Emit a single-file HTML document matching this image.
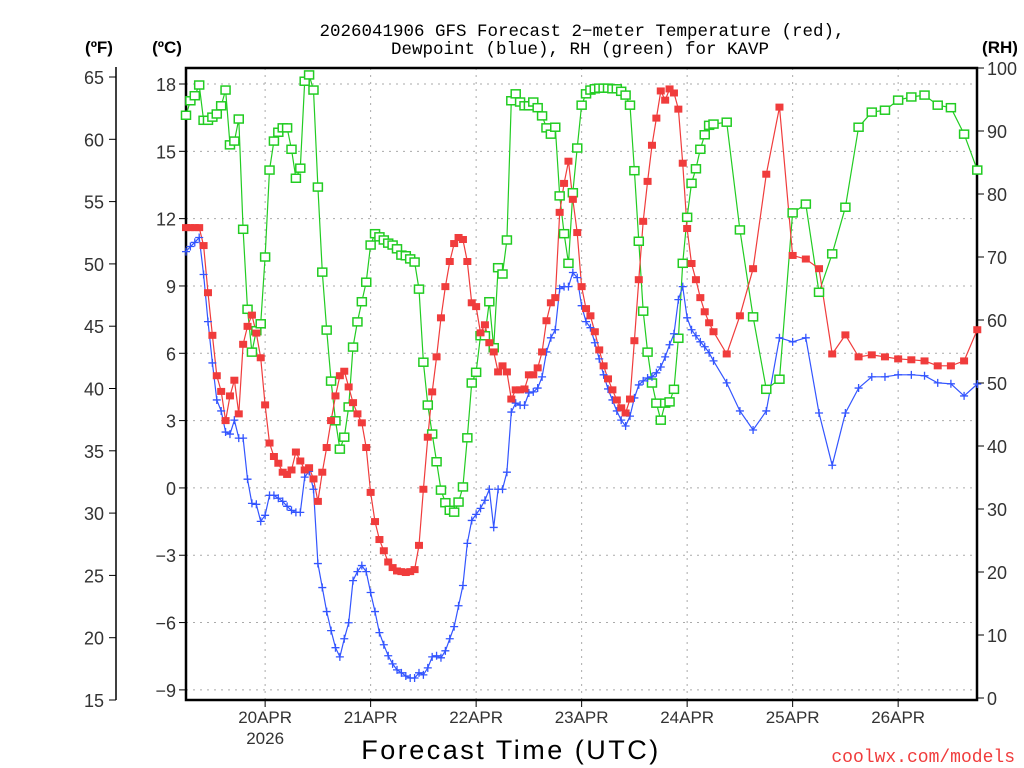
<!DOCTYPE html>
<html><head><meta charset="utf-8"><style>
html,body{margin:0;padding:0;background:#fff;}
svg{display:block;}
text{font-family:"Liberation Sans","DejaVu Sans",sans-serif;}
</style></head><body>
<svg id="chart" width="1024" height="768" xmlns="http://www.w3.org/2000/svg">
<rect width="1024" height="768" fill="#fff"/>
<g id="grid"></g>
<g id="axes"></g>
<g id="series"></g>
<text x="582" y="36" font-size="17.5" text-anchor="middle" fill="#000" style="font-family:'Liberation Mono',monospace">2026041906 GFS Forecast 2−meter Temperature (red),</text>
<text x="580" y="54" font-size="17.5" text-anchor="middle" fill="#000" style="font-family:'Liberation Mono',monospace">Dewpoint (blue), RH (green) for KAVP</text>
<text x="99" y="53" font-size="17" font-weight="bold" text-anchor="middle">(ºF)</text>
<text x="167" y="53" font-size="17" font-weight="bold" text-anchor="middle">(ºC)</text>
<text x="1000" y="53" font-size="17" font-weight="bold" text-anchor="middle">(RH)</text>
<text x="511" y="759" font-size="27" text-anchor="middle" letter-spacing="2.5" fill="#000">Forecast Time (UTC)</text>
<text x="1015" y="762" font-size="18" text-anchor="end" fill="#f03c3c" style="font-family:'Liberation Mono',monospace">coolwx.com/models</text>
</svg>
<script>
const temps = [11.6,11.6,11.6,11.6,10.8,8.7,6.8,5.0,4.3,3.0,4.1,4.8,3.3,6.4,7.2,7.7,6.9,5.8,3.7,2.0,1.4,1.1,0.7,0.6,0.8,1.6,1.2,0.8,0.9,0.4,-0.6,0.7,1.8,3.0,4.1,5.0,5.2,4.5,3.8,3.3,2.9,1.8,-0.2,-1.5,-2.3,-2.8,-3.3,-3.55,-3.7,-3.73,-3.77,-3.73,-3.64,-2.56,-0.06,2.26,4.28,5.84,7.58,8.97,10.09,10.89,11.16,11.07,10.09,8.25,8.08,6.91,7.27,6.47,6.06,5.17,5.44,5.17,3.96,4.37,4.37,4.41,5.04,5.04,5.35,6.06,7.45,8.25,8.48,12.28,13.57,14.56,12.86,11.38,8.97,7.99,7.67,6.96,6.15,5.44,4.86,4.37,3.92,3.57,3.34,3.96,6.56,9.28,11.88,13.66,15.27,16.48,17.69,17.28,17.78,17.6,16.88,14.47,11.56,10.0,9.28,8.48,7.85,7.36,6.96,5.97,7.67,9.77,13.98,16.97,10.36,10.2,9.77,5.97,6.82,5.84,5.93,5.84,5.75,5.71,5.66,5.44,5.44,5.66,7.05];
const dewpts = [10.53,10.76,10.94,11.16,9.51,7.41,5.57,3.92,3.43,2.49,2.4,3.02,2.22,2.22,0.39,-0.69,-0.73,-1.49,-1.22,-0.33,-0.33,-0.46,-0.6,-0.82,-1.0,-1.09,-1.09,0.48,0.74,-0.06,-3.37,-4.44,-5.51,-6.36,-7.12,-7.53,-6.72,-6.01,-4.13,-3.73,-3.46,-3.73,-4.66,-5.51,-6.45,-6.99,-7.48,-7.84,-8.11,-8.24,-8.38,-8.47,-8.47,-8.24,-8.33,-8.02,-7.53,-7.48,-7.57,-7.26,-6.72,-6.18,-5.25,-4.35,-2.47,-1.45,-1.18,-0.91,-0.55,-0.06,-1.76,-0.06,-0.06,0.7,3.38,3.78,3.69,3.69,4.23,4.28,4.45,4.95,6.06,6.69,7.05,8.88,8.97,8.97,9.6,9.37,8.12,7.41,7.14,6.47,5.75,5.04,4.41,3.92,3.43,3.02,2.76,3.2,4.01,4.59,4.77,4.9,4.95,5.13,5.39,5.84,6.38,6.87,8.39,8.97,7.58,7.05,6.78,6.51,6.29,6.02,5.66,4.68,3.43,2.58,3.43,6.69,6.51,6.69,3.34,1.01,3.34,4.45,4.95,4.95,5.04,5.04,5.0,4.68,4.64,4.1,4.63];
const rh = [92.5,94.8,95.6,97.3,91.7,91.7,92.2,92.7,94.0,96.5,87.8,88.4,91.9,74.4,61.7,54.9,58.3,59.4,70.0,83.8,88.4,89.8,90.5,90.5,87.1,82.5,84.1,97.9,98.9,96.5,81.1,67.6,58.4,50.3,44.0,39.5,41.4,46.2,55.7,59.7,62.9,66.0,71.9,73.7,73.2,72.7,72.2,71.9,71.3,70.3,70.2,69.7,69.2,64.9,53.3,46.5,41.9,37.5,33.0,31.0,29.8,29.5,31.1,33.5,41.3,50.0,51.7,57.5,57.5,62.9,55.6,68.3,67.3,72.7,94.8,95.9,94.6,94.0,94.0,94.6,93.7,92.4,90.5,89.5,90.6,79.7,73.7,69.0,80.2,87.3,94.1,95.9,96.5,96.7,96.8,96.8,96.8,96.7,96.7,96.3,95.7,94.1,83.7,72.5,61.4,54.9,50.0,46.8,44.1,46.8,47.0,49.0,57.1,69.0,76.3,81.7,84.0,87.1,89.4,90.9,91.1,91.4,74.3,60.5,49.0,50.6,77.0,78.4,64.4,70.5,77.9,90.6,93.0,93.3,94.9,95.4,95.7,94.1,93.7,89.5,83.8];
const dateLabels = ["20APR","21APR","22APR","23APR","24APR","25APR","26APR"];
const dateHours = [18,42,66,90,114,138,162];
const celsiusTicks = [18,15,12,9,6,3,0,-3,-6,-9];
const fahrenheitTicks = [65,60,55,50,45,40,35,30,25,20,15];
const rhTicks = [100,90,80,70,60,50,40,30,20,10,0];

const hours = [];
for (let h = 0; h <= 120; h++) hours.push(h);
for (let h = 123; h <= 180; h += 3) hours.push(h);

const L = 186, R = 977, T = 68, B = 700;
const xOf = h => L + h * 4.396;
const yC = c => 84 + (18 - c) * 22.44;
const yF = f => 77 + (65 - f) * 12.46;
const yRH = r => 68 + (100 - r) * 6.3;

const NS = "http://www.w3.org/2000/svg";
function mk(tag, attrs, parent, txt) {
  const e = document.createElementNS(NS, tag);
  for (const k in attrs) e.setAttribute(k, attrs[k]);
  if (txt !== undefined) e.textContent = txt;
  parent.appendChild(e);
  return e;
}
const grid = document.getElementById('grid');
const axes = document.getElementById('axes');
const series = document.getElementById('series');

celsiusTicks.forEach(c => {
  const y = yC(c);
  const g = mk('line', {x1: L, x2: R, y1: y, y2: y, stroke: '#aaa', 'stroke-width': 1, 'stroke-dasharray': '2,5'}, grid);
  
  
  const t = mk('line', {x1: L - 7, x2: L, y1: y, y2: y, stroke: '#000', 'stroke-width': 1}, axes);
  
  
  const lb = mk('text', {x: L - 10, y: y + 7, 'font-size': 18, 'text-anchor': 'end', fill: '#333'}, axes, c < 0 ? '−' + Math.abs(c) : String(c));
  
  
});
dateHours.forEach((h, i) => {
  const x = xOf(h);
  const g = mk('line', {x1: x, x2: x, y1: T, y2: B, stroke: '#aaa', 'stroke-width': 1, 'stroke-dasharray': '2,5'}, grid);
  
  
  const t = mk('line', {x1: x, x2: x, y1: B, y2: B + 7, stroke: '#000', 'stroke-width': 1}, axes);
  
  
  const lb = mk('text', {x: x, y: B + 23, 'font-size': 17, 'text-anchor': 'middle', fill: '#333'}, axes, dateLabels[i]);
  
  
});
const yr = mk('text', {x: xOf(18), y: B + 44, 'font-size': 17, 'text-anchor': 'middle', fill: '#333'}, axes, '2026');



const fl = mk('line', {x1: 116, x2: 116, y1: 67, y2: 700, stroke: '#000', 'stroke-width': 1.5}, axes);


fahrenheitTicks.forEach(f => {
  const y = yF(f);
  const t = mk('line', {x1: 109, x2: 116, y1: y, y2: y, stroke: '#000', 'stroke-width': 1}, axes);
  
  
  const lb = mk('text', {x: 104, y: y + 7, 'font-size': 18, 'text-anchor': 'end', fill: '#333'}, axes, String(f));
  
  
});
rhTicks.forEach(r => {
  const y = yRH(r);
  const t = mk('line', {x1: R, x2: R + 7, y1: y, y2: y, stroke: '#000', 'stroke-width': 1}, axes);
  
  
  const lb = mk('text', {x: R + 10, y: y + 7, 'font-size': 18, 'text-anchor': 'start', fill: '#333'}, axes, String(r));
  
  
});
const frame = mk('rect', {x: L, y: T, width: R - L, height: B - T, fill: 'none', stroke: '#000', 'stroke-width': 2.5}, axes);



function line(vals, yf, color, name) {
  const pts = vals.map((v, i) => xOf(hours[i]).toFixed(1) + ',' + yf(v).toFixed(1)).join(' ');
  const p = mk('polyline', {points: pts, fill: 'none', stroke: color, 'stroke-width': 1.2}, series);
  
  
}
line(rh, yRH, '#22cc22', 'rh-line');
line(dewpts, yC, '#3355ff', 'dewpoint-line');
line(temps, yC, '#f03c3c', 'temperature-line');

rh.forEach((v, i) => {
  const x = xOf(hours[i]), y = yRH(v);
  const m = mk('rect', {x: x - 4.5, y: y - 4, width: 9, height: 8, fill: '#fff', stroke: '#22cc22', 'stroke-width': 1.5}, series);
  
  
});
dewpts.forEach((v, i) => {
  const x = xOf(hours[i]), y = yC(v);
  const m = mk('path', {d: `M${x - 4},${y}H${x + 4}M${x},${y - 4}V${y + 4}`, stroke: '#3355ff', 'stroke-width': 1.3, fill: 'none'}, series);
  
  
});
temps.forEach((v, i) => {
  const x = xOf(hours[i]), y = yC(v);
  const m = mk('rect', {x: x - 4, y: y - 3.5, width: 8, height: 7, fill: '#f03c3c'}, series);
  
  
});
</script>
</body></html>
